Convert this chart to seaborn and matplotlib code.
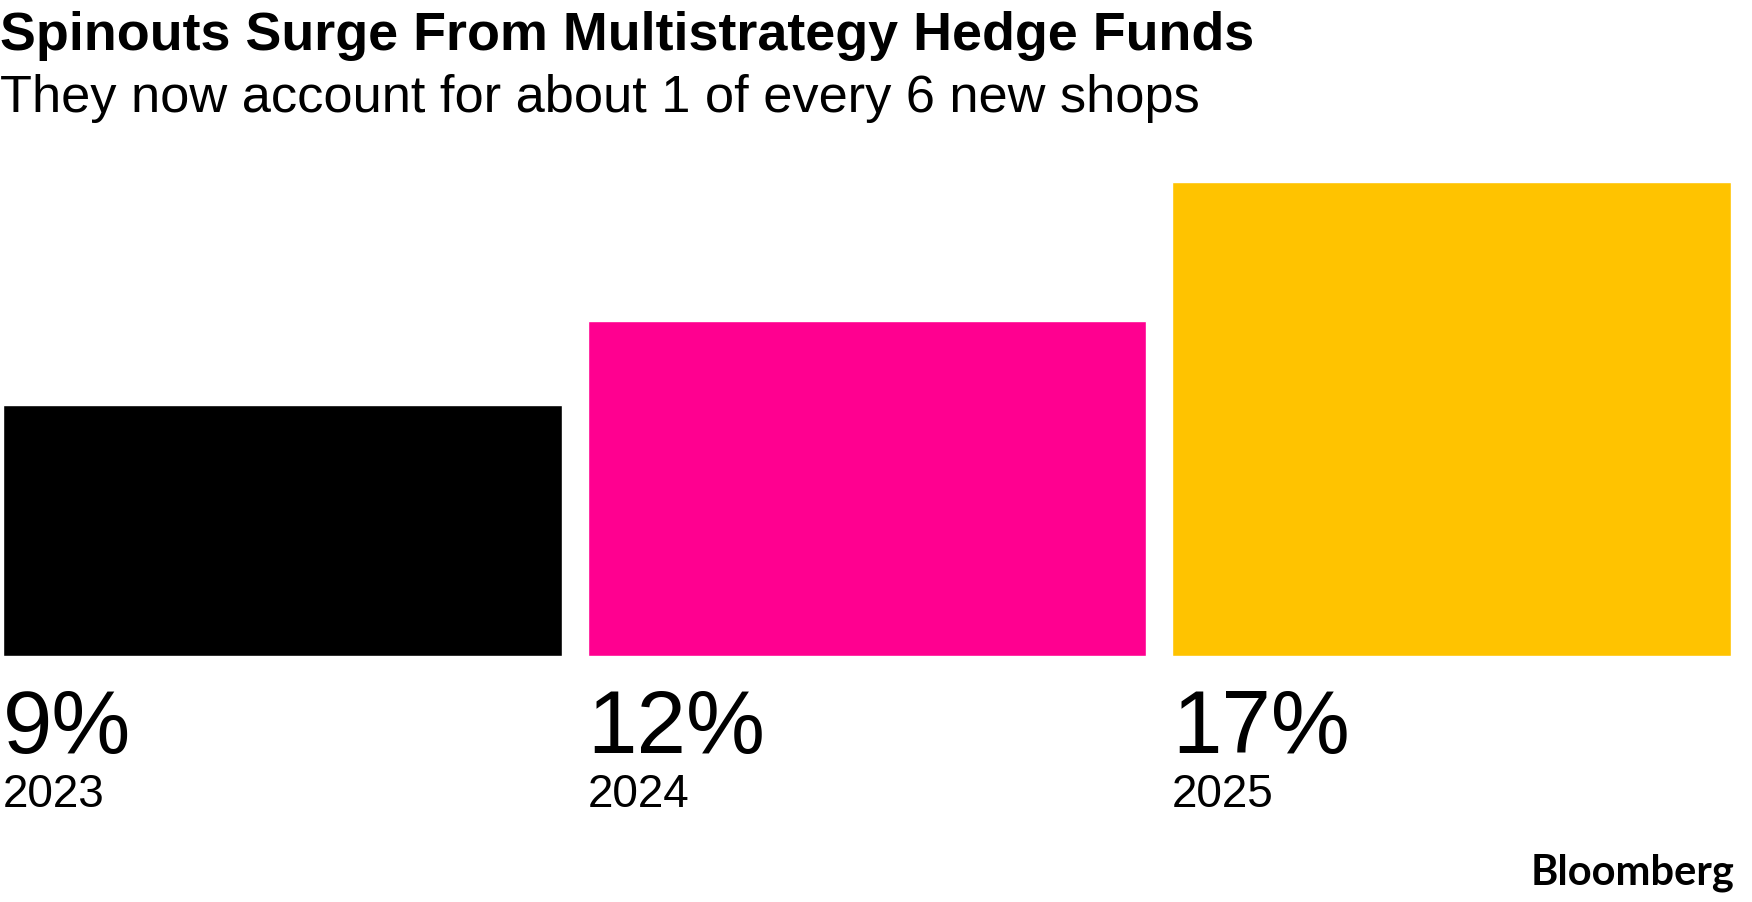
import pandas as pd
import matplotlib
matplotlib.use("Agg")
import matplotlib.pyplot as plt
import matplotlib.transforms as mtransforms
import seaborn as sns

# data
years = ["2023", "2024", "2025"]
share_pct = [9, 12, 17]
value_labels = ["9%", "12%", "17%"]
bar_colors = ["#000000", "#ff0090", "#ffc300"]

title = "Spinouts Surge From Multistrategy Hedge Funds"
subtitle = "They now account for about 1 of every 6 new shops"
source = "Bloomberg"

df = pd.DataFrame({"year": years, "share": share_pct})

sns.set_style("white")
plt.rcParams["font.family"] = ["Liberation Sans", "DejaVu Sans"]

W, H = 1752, 903
fig = plt.figure(figsize=(W / 100, H / 100), dpi=100)
# axes placed in pixels: bars from x=3..1731, baseline at y=657, 17% top at y=183
ax = fig.add_axes([3 / W, (H - 657) / H, 1728 / W, 474 / H])

bw = 0.956
sns.barplot(data=df, x="year", y="share", hue="year", palette=bar_colors,
            saturation=1.0, width=bw, legend=False, ax=ax)
ax.set_xlim(-bw / 2, 2 + bw / 2)
ax.set_ylim(0, 17)
ax.set_axis_off()

# labels under each bar, left aligned to bar edge
trans = mtransforms.blended_transform_factory(ax.transData, ax.transAxes)
for i, (val, yr) in enumerate(zip(value_labels, years)):
    x0 = i - bw / 2
    ax.text(x0, (657 - 753) / 474, val, transform=trans, ha="left", va="baseline",
            fontsize=64, color="black")
    ax.text(x0, (657 - 807) / 474, yr, transform=trans, ha="left", va="baseline",
            fontsize=33, color="black")

fig.text(0.0, 1 - 50 / H, title, ha="left", va="baseline", fontsize=38.8,
         fontweight="bold", color="black")
fig.text(0.0, 1 - 112 / H, subtitle, ha="left", va="baseline", fontsize=37.7,
         color="black")
fig.text(1734 / W, 1 - 885 / H, source, ha="right", va="baseline", fontsize=30,
         fontweight="bold", family=["Lato", "DejaVu Sans"], color="black")

fig.savefig("out.png", dpi=100, facecolor="white")
